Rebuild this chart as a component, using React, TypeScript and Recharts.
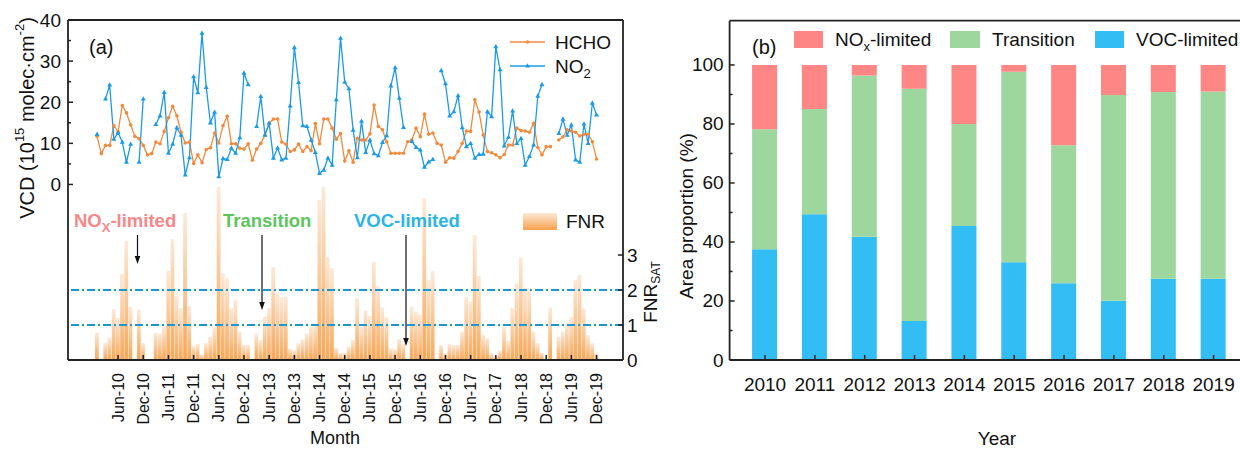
import { ComposedChart, BarChart, Bar, Line, XAxis, YAxis, ReferenceLine } from 'recharts';

// Monthly column densities, Jan 2010 .. Dec 2019 (10^15 molec/cm2)
const hcho = [
  11.7, 7.5, 9.5, 9.5, 14.3, 12.8, 19.2, 17.4, 14.5, 11.7, 11.1, 9.5,
  7.2, 7.5, 10.3, 9.9, 12.9, 16.2, 19.0, 16.7, 12.7, 10.1, 10.3, 5.1,
  7.2, 5.3, 8.5, 8.9, 12.5, 10.1, 14.3, 16.6, 9.9, 9.9, 8.8, 8.6,
  9.9, 5.9, 8.6, 10.0, 12.0, 14.9, 15.9, 15.9, 10.3, 9.8, 8.0, 8.4,
  9.8, 8.0, 9.2, 8.2, 14.8, 9.9, 15.9, 15.9, 13.7, 11.0, 12.4, 5.7,
  8.2, 5.4, 11.2, 10.8, 10.8, 12.3, 19.3, 14.1, 13.3, 10.4, 7.6, 7.6,
  7.6, 7.6, 10.4, 10.8, 13.7, 11.6, 17.1, 12.2, 12.5, 10.0, 9.6, 5.4,
  6.5, 6.4, 8.0, 10.0, 13.0, 12.9, 20.6, 17.6, 12.0, 8.0, 7.7, 7.2,
  6.5, 7.3, 9.6, 9.6, 13.7, 13.1, 13.0, 12.7, 14.9, 9.0, 7.2, 9.2,
  9.2, null, 10.8, 11.6, 13.3, 13.0, 12.7, 11.8, 12.2, 12.2, 10.4, 6.2,
];

const no2 = [
  12.2, null, 20.8, 24.2, 11.0, 12.6, 10.3, 5.4, 9.8, null, 5.4, 20.8,
  null, null, 14.6, 16.7, 22.4, 7.6, 9.8, 13.8, 12.0, 2.3, 6.5, 26.2,
  22.3, 36.8, 23.6, 15.0, 17.6, 1.9, 6.3, 6.1, 8.8, 7.6, 11.4, 27.1,
  24.3, null, 14.1, 21.4, 12.0, 14.9, 6.4, 8.9, 6.0, 6.4, 19.1, 33.3,
  24.8, 14.3, 14.1, 10.8, 7.8, 2.7, 3.5, 6.4, 4.7, 20.6, 35.6, 24.9,
  23.3, 13.2, 6.5, 15.4, 7.8, 10.8, 7.5, 7.0, 10.2, 11.9, 24.0, 28.4,
  21.0, 13.9, null, 10.5, 9.0, 8.4, 4.2, 5.5, 6.1, null, 27.7, 24.5,
  16.7, 17.7, 21.6, 13.8, 9.2, 10.0, 6.4, 7.3, 7.4, 17.7, 16.5, 33.5,
  27.9, 9.4, 11.5, 17.9, 10.0, 11.2, 4.7, 6.8, 9.6, 21.5, 24.3, null,
  null, null, 12.4, 15.9, 12.0, 14.5, 6.0, 5.4, 14.7, 10.0, 19.8, 16.9,
];

const fnr = [
  0.78, null, 0.49, 0.64, 1.45, 1.2, 2.46, 3.41, 1.52, null, 1.43, 0.48,
  null, null, 0.78, 0.76, 0.95, 2.55, 3.45, 1.85, 1.48, 4.19, 1.54, 0.4,
  0.46, 0.15, 0.48, 0.67, 0.95, 4.95, 2.48, 2.33, 1.48, 1.71, 0.81, 0.43,
  0.43, null, 0.76, 0.57, 1.24, 1.48, 2.65, 1.9, 1.79, 1.81, 0.33, 0.28,
  0.48, 0.59, 0.76, 0.95, 1.05, 4.57, 4.95, 2.95, 2.62, 0.35, 0.2, 0.21,
  0.38, 0.57, 1.76, 0.95, 1.41, 1.26, 2.81, 2.11, 1.5, 1.22, 0.33, 0.3,
  0.6, 0.47, null, 1.52, 1.38, 1.3, 4.62, 2.29, 2.54, null, 0.43, 0.19,
  0.46, 0.43, 0.43, 0.81, 1.81, 1.67, 3.57, 2.4, 0.71, 0.62, 0.19, 0.11,
  0.27, 0.95, 0.55, 1.48, 2.19, 2.93, 2.05, 2.05, 0.81, 0.48, 0.21, null,
  1.5, null, 0.67, 0.81, 1.05, 1.24, 2.29, 2.43, 1.48, 0.71, 0.48, 0.19,
];

const monthTicks = [5, 11, 17, 23, 29, 35, 41, 47, 53, 59, 65, 71, 77, 83, 89, 95, 101, 107, 113, 119];
const monthTickLabels = [
  'Jun-10', 'Dec-10', 'Jun-11', 'Dec-11', 'Jun-12', 'Dec-12', 'Jun-13', 'Dec-13', 'Jun-14', 'Dec-14',
  'Jun-15', 'Dec-15', 'Jun-16', 'Dec-16', 'Jun-17', 'Dec-17', 'Jun-18', 'Dec-18', 'Jun-19', 'Dec-19',
];
const vcdTicks = [0, 5, 10, 15, 20, 25, 30, 35, 40];
const fnrTicks = [0, 1, 2, 3];

// Yearly share of area per O3 formation regime (%)
const years = ['2010', '2011', '2012', '2013', '2014', '2015', '2016', '2017', '2018', '2019'];
const vocLimited = [37.5, 49.4, 41.8, 13.2, 45.4, 33.1, 26.0, 20.1, 27.5, 27.5];
const transition = [40.7, 35.7, 54.6, 78.7, 34.6, 64.6, 46.8, 69.7, 63.3, 63.5];
const noxLimited = [21.8, 14.9, 3.6, 8.1, 20.0, 2.3, 27.2, 10.2, 9.2, 9.0];
const shareTicks = [0, 10, 20, 30, 40, 50, 60, 70, 80, 90, 100];

const monthly = hcho.map((h, i) => ({ m: i, hcho: h, no2: no2[i], fnr: fnr[i] }));
const areaRows = years.map((y, i) => ({
  year: y,
  voc: vocLimited[i],
  trans: transition[i],
  nox: noxLimited[i],
}));

const HCHO_COLOR = '#f28a3c';
const NO2_COLOR = '#1b9be6';
const NOX_COLOR = '#fe8684';
const TRANS_COLOR = '#9dd79d';
const VOC_COLOR = '#33bdf5';
const INK = '#111';
const axisStyle = { stroke: '#222', strokeWidth: 1.8 };
const monthDomain: [number, number] = [-6.93, 125.3];

// plot-area edges (chart-local pixels)
const A_LEFT = 68;
const A_RIGHT = 623;
const A_BOTTOM = 360;
const B_LEFT = 49.6;
const B_BOTTOM = 360;

function TriangleDot(props: any) {
  const { cx, cy, value } = props;
  if (cx == null || cy == null || value == null) return <g key={props.key} />;
  return (
    <path
      key={props.key}
      d={`M${cx},${cy - 2.7}L${cx + 2.5},${cy + 1.6}L${cx - 2.5},${cy + 1.6}Z`}
      fill={NO2_COLOR}
    />
  );
}

// ticks drawn pointing into the plot, with short minor marks
function VcdTick({ y, payload }: any) {
  const v = payload.value;
  const major = v % 10 === 0;
  return (
    <g>
      <line x1={A_LEFT} y1={y} x2={A_LEFT + (major ? 5 : 3)} y2={y} stroke="#222" strokeWidth={1.5} />
      {major && (
        <text x={A_LEFT - 7} y={y} textAnchor="end" dominantBaseline="central" fontSize={19} fill={INK}>
          {v}
        </text>
      )}
    </g>
  );
}

function FnrTick({ y, payload }: any) {
  return (
    <g>
      <line x1={A_RIGHT - 5} y1={y} x2={A_RIGHT} y2={y} stroke="#222" strokeWidth={1.5} />
      <text x={A_RIGHT + 4} y={y} textAnchor="start" dominantBaseline="central" fontSize={19} fill={INK}>
        {payload.value}
      </text>
    </g>
  );
}

function MonthTick({ x, payload }: any) {
  const label = monthTickLabels[monthTicks.indexOf(payload.value)];
  const ty = A_BOTTOM + 13;
  return (
    <g>
      <line x1={x} y1={A_BOTTOM - 5} x2={x} y2={A_BOTTOM} stroke="#222" strokeWidth={1.5} />
      <text
        x={x}
        y={ty}
        transform={`rotate(-90 ${x} ${ty})`}
        textAnchor="end"
        dominantBaseline="central"
        fontSize={16}
        fill={INK}
      >
        {label}
      </text>
    </g>
  );
}

function ShareTick({ y, payload }: any) {
  const v = payload.value;
  const major = v % 20 === 0;
  return (
    <g>
      <line x1={B_LEFT} y1={y} x2={B_LEFT + (major ? 5 : 3)} y2={y} stroke="#222" strokeWidth={1.5} />
      {major && (
        <text x={B_LEFT - 6} y={y} textAnchor="end" dominantBaseline="central" fontSize={19} fill={INK}>
          {v}
        </text>
      )}
    </g>
  );
}

function YearTick({ x, payload }: any) {
  return (
    <g>
      <line x1={x} y1={B_BOTTOM - 5} x2={x} y2={B_BOTTOM} stroke="#222" strokeWidth={1.5} />
      <text x={x} y={B_BOTTOM + 24} textAnchor="middle" dominantBaseline="central" fontSize={19} fill={INK}>
        {payload.value}
      </text>
    </g>
  );
}

function Arrow({ x, y1, y2 }: { x: number; y1: number; y2: number }) {
  return (
    <g>
      <line x1={x} y1={y1} x2={x} y2={y2 - 6} stroke={INK} strokeWidth={1.2} />
      <path d={`M${x - 2.8},${y2 - 8}L${x + 2.8},${y2 - 8}L${x},${y2}Z`} fill={INK} />
    </g>
  );
}

function MonthlyPanel() {
  return (
    <ComposedChart
      width={680}
      height={449}
      data={monthly}
      margin={{ top: 0, right: 0, bottom: 0, left: 0 }}
    >
      <defs>
        <linearGradient id="fnrFill" x1="0" y1="0" x2="0" y2="1">
          <stop offset="0%" stopColor="#fde8d6" />
          <stop offset="100%" stopColor="#f7a24e" />
        </linearGradient>
      </defs>
      <XAxis
        xAxisId="b"
        dataKey="m"
        type="number"
        domain={monthDomain}
        allowDataOverflow
        ticks={monthTicks}
        interval={0}
        height={89}
        tick={<MonthTick />}
        tickLine={false}
        axisLine={axisStyle}
      />
      <XAxis
        xAxisId="t"
        orientation="top"
        dataKey="m"
        type="number"
        domain={monthDomain}
        allowDataOverflow
        height={20}
        tick={false}
        tickLine={false}
        axisLine={axisStyle}
      />
      <YAxis
        yAxisId="vcd"
        type="number"
        domain={[-42.7, 40]}
        allowDataOverflow
        ticks={vcdTicks}
        interval={0}
        width={68}
        tick={<VcdTick />}
        tickLine={false}
        axisLine={axisStyle}
      />
      <YAxis
        yAxisId="fnr"
        orientation="right"
        type="number"
        domain={[0, 340 / 35]}
        allowDataOverflow
        ticks={fnrTicks}
        interval={0}
        width={57}
        tick={<FnrTick />}
        tickLine={false}
        axisLine={axisStyle}
      />
      <Bar
        xAxisId="b"
        yAxisId="fnr"
        dataKey="fnr"
        barSize={4.6}
        fill="url(#fnrFill)"
        fillOpacity={0.95}
        isAnimationActive={false}
      />
      <ReferenceLine xAxisId="b" yAxisId="fnr" y={1} stroke="#1a98d5" strokeWidth={2} strokeDasharray="8 3 2 3" />
      <ReferenceLine xAxisId="b" yAxisId="fnr" y={2} stroke="#1a98d5" strokeWidth={2} strokeDasharray="8 3 2 3" />
      <Line
        xAxisId="b"
        yAxisId="vcd"
        dataKey="hcho"
        type="linear"
        stroke={HCHO_COLOR}
        strokeWidth={1.3}
        dot={{ r: 1.8, fill: HCHO_COLOR, stroke: HCHO_COLOR, strokeWidth: 0 }}
        isAnimationActive={false}
      />
      <Line
        xAxisId="b"
        yAxisId="vcd"
        dataKey="no2"
        type="linear"
        stroke={NO2_COLOR}
        strokeWidth={1.3}
        dot={<TriangleDot />}
        isAnimationActive={false}
      />
    </ComposedChart>
  );
}

function RegimePanel() {
  return (
    <BarChart
      width={600}
      height={449}
      data={areaRows}
      margin={{ top: 0, right: 31, bottom: 0, left: 0 }}
      barSize={25}
    >
      <XAxis
        dataKey="year"
        padding={{ left: 10.5, right: 10.5 }}
        interval={0}
        height={89}
        tick={<YearTick />}
        tickLine={false}
        axisLine={axisStyle}
      />
      <XAxis
        xAxisId="top"
        orientation="top"
        dataKey="year"
        height={20.7}
        tick={false}
        tickLine={false}
        axisLine={axisStyle}
      />
      <YAxis
        type="number"
        domain={[0, 115]}
        allowDataOverflow
        ticks={shareTicks}
        interval={0}
        width={B_LEFT}
        tick={<ShareTick />}
        tickLine={false}
        axisLine={axisStyle}
      />
      <Bar dataKey="voc" stackId="s" fill={VOC_COLOR} isAnimationActive={false} />
      <Bar dataKey="trans" stackId="s" fill={TRANS_COLOR} isAnimationActive={false} />
      <Bar dataKey="nox" stackId="s" fill={NOX_COLOR} isAnimationActive={false} />
    </BarChart>
  );
}

export default function App() {
  return (
    <div
      style={{
        position: 'relative',
        width: 1240,
        height: 449,
        overflow: 'hidden',
        background: '#fff',
        fontFamily: '"Liberation Sans", Arial, sans-serif',
      }}
    >
      <style>{'body{margin:0;overflow:hidden}'}</style>
      <div style={{ position: 'absolute', left: 0, top: 0 }}>
        <MonthlyPanel />
      </div>
      <div style={{ position: 'absolute', left: 680, top: 0 }}>
        <RegimePanel />
      </div>
      <svg
        width={1240}
        height={449}
        style={{ position: 'absolute', left: 0, top: 0, pointerEvents: 'none' }}
        fontFamily='"Liberation Sans", Arial, sans-serif'
      >
        <defs>
          <linearGradient id="fnrSwatch" x1="0" y1="0" x2="0" y2="1">
            <stop offset="0%" stopColor="#fde8d6" />
            <stop offset="100%" stopColor="#f7a24e" />
          </linearGradient>
        </defs>

        {/* panel (a) titles */}
        <text x={89} y={54} fontSize={20} fill={INK}>(a)</text>
        <text
          transform="translate(27,118) rotate(-90)"
          textAnchor="middle"
          dominantBaseline="central"
          fontSize={20}
          fill={INK}
        >
          VCD (10<tspan dy={-8} fontSize={13}>15</tspan>
          <tspan dy={8}> molec·cm</tspan>
          <tspan dy={-8} fontSize={13}>-2</tspan>
          <tspan dy={8}>)</tspan>
        </text>
        <text
          transform="translate(650,292) rotate(-90)"
          textAnchor="middle"
          dominantBaseline="central"
          fontSize={19}
          fill={INK}
        >
          FNR<tspan dy={6} fontSize={12}>SAT</tspan>
        </text>
        <text x={335} y={444} textAnchor="middle" fontSize={18} fill={INK}>Month</text>

        {/* line legend */}
        <line x1={510} y1={42} x2={545} y2={42} stroke={HCHO_COLOR} strokeWidth={1.3} />
        <circle cx={527.5} cy={42} r={1.8} fill={HCHO_COLOR} />
        <text x={555} y={49} fontSize={19} fill={INK}>HCHO</text>
        <line x1={510} y1={66} x2={545} y2={66} stroke={NO2_COLOR} strokeWidth={1.3} />
        <path d="M527.5,63.3L530,67.6L525,67.6Z" fill={NO2_COLOR} />
        <text x={555} y={73} fontSize={19} fill={INK}>
          NO<tspan dy={5} fontSize={13}>2</tspan>
        </text>

        {/* FNR legend */}
        <rect x={523} y={213} width={34} height={17} fill="url(#fnrSwatch)" />
        <text x={566} y={228} fontSize={19} fill={INK}>FNR</text>

        {/* regime annotations */}
        <text x={74} y={227} fontSize={18.5} fontWeight="bold" fill="#f88888">
          NO<tspan dy={5} fontSize={13}>X</tspan>
          <tspan dy={-5}>-limited</tspan>
        </text>
        <text x={223} y={227} fontSize={18.5} fontWeight="bold" fill="#5cc65c">Transition</text>
        <text x={354} y={227} fontSize={18.5} fontWeight="bold" fill="#2bb4ea">VOC-limited</text>
        <Arrow x={137.5} y1={235} y2={264} />
        <Arrow x={262} y1={235} y2={310} />
        <Arrow x={406} y1={235} y2={346} />

        {/* panel (b) titles and legend */}
        <text x={752} y={54} fontSize={20} fill={INK}>(b)</text>
        <rect x={794} y={31} width={29} height={17} fill={NOX_COLOR} />
        <text x={835} y={46} fontSize={19} fill={INK}>
          NO<tspan dy={5} fontSize={13}>x</tspan>
          <tspan dy={-5}>-limited</tspan>
        </text>
        <rect x={950} y={31} width={30} height={17} fill={TRANS_COLOR} />
        <text x={992} y={46} fontSize={19} fill={INK}>Transition</text>
        <rect x={1095} y={31} width={29} height={17} fill={VOC_COLOR} />
        <text x={1136} y={46} fontSize={19} fill={INK}>VOC-limited</text>
        <text
          transform="translate(686,216) rotate(-90)"
          textAnchor="middle"
          dominantBaseline="central"
          fontSize={19}
          fill={INK}
        >
          Area proportion (%)
        </text>
        <text x={997} y={445} textAnchor="middle" fontSize={19} fill={INK}>Year</text>
      </svg>
    </div>
  );
}
